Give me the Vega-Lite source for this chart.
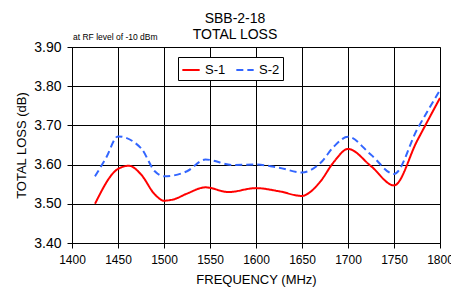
{
  "$schema": "https://vega.github.io/schema/vega-lite/v6.json",
  "width": 368,
  "height": 196,
  "autosize": {"type": "none"},
  "padding": {"left": 72, "top": 47, "right": 11, "bottom": 52},
  "background": "white",
  "config": {
    "font": "Liberation Sans",
    "view": {"stroke": "#808080", "strokeWidth": 1}
  },
  "title": {
    "text": ["SBB-2-18", "TOTAL LOSS"],
    "fontSize": 14,
    "fontWeight": "normal",
    "color": "#000000",
    "anchor": "middle",
    "dx": -21,
    "offset": -9,
    "lineHeight": 16
  },
  "data": {
    "values": [
      {"f": 1425, "loss": 3.500, "s": "S-1"},
      {"f": 1450, "loss": 3.589, "s": "S-1"},
      {"f": 1462, "loss": 3.597, "s": "S-1"},
      {"f": 1475, "loss": 3.575, "s": "S-1"},
      {"f": 1490, "loss": 3.524, "s": "S-1"},
      {"f": 1500, "loss": 3.508, "s": "S-1"},
      {"f": 1510, "loss": 3.511, "s": "S-1"},
      {"f": 1525, "loss": 3.526, "s": "S-1"},
      {"f": 1545, "loss": 3.542, "s": "S-1"},
      {"f": 1570, "loss": 3.530, "s": "S-1"},
      {"f": 1600, "loss": 3.540, "s": "S-1"},
      {"f": 1625, "loss": 3.532, "s": "S-1"},
      {"f": 1650, "loss": 3.520, "s": "S-1"},
      {"f": 1660, "loss": 3.532, "s": "S-1"},
      {"f": 1670, "loss": 3.557, "s": "S-1"},
      {"f": 1685, "loss": 3.608, "s": "S-1"},
      {"f": 1700, "loss": 3.640, "s": "S-1"},
      {"f": 1725, "loss": 3.596, "s": "S-1"},
      {"f": 1750, "loss": 3.547, "s": "S-1"},
      {"f": 1775, "loss": 3.660, "s": "S-1"},
      {"f": 1800, "loss": 3.770, "s": "S-1"},
      {"f": 1425, "loss": 3.570, "s": "S-2"},
      {"f": 1437, "loss": 3.617, "s": "S-2"},
      {"f": 1450, "loss": 3.672, "s": "S-2"},
      {"f": 1475, "loss": 3.642, "s": "S-2"},
      {"f": 1490, "loss": 3.583, "s": "S-2"},
      {"f": 1500, "loss": 3.570, "s": "S-2"},
      {"f": 1525, "loss": 3.583, "s": "S-2"},
      {"f": 1545, "loss": 3.613, "s": "S-2"},
      {"f": 1575, "loss": 3.599, "s": "S-2"},
      {"f": 1600, "loss": 3.600, "s": "S-2"},
      {"f": 1625, "loss": 3.592, "s": "S-2"},
      {"f": 1650, "loss": 3.580, "s": "S-2"},
      {"f": 1670, "loss": 3.604, "s": "S-2"},
      {"f": 1685, "loss": 3.647, "s": "S-2"},
      {"f": 1700, "loss": 3.671, "s": "S-2"},
      {"f": 1725, "loss": 3.625, "s": "S-2"},
      {"f": 1750, "loss": 3.576, "s": "S-2"},
      {"f": 1775, "loss": 3.689, "s": "S-2"},
      {"f": 1800, "loss": 3.790, "s": "S-2"}
    ]
  },
  "encoding": {
    "x": {
      "field": "f", "type": "quantitative",
      "scale": {"domain": [1400, 1800], "nice": false, "zero": false},
      "axis": {
        "values": [1400, 1450, 1500, 1550, 1600, 1650, 1700, 1750, 1800],
        "format": "d",
        "title": "FREQUENCY (MHz)",
        "titleFontSize": 13, "titleFontWeight": "normal", "titleColor": "#000000",
        "titlePadding": 8,
        "labelFontSize": 12, "labelColor": "#000000", "labelPadding": 6,
        "labelFlush": false, "labelOverlap": false,
        "domainColor": "#000000", "tickColor": "#000000", "tickSize": 5,
        "grid": true, "gridColor": "#000000", "gridWidth": 1
      }
    },
    "y": {
      "field": "loss", "type": "quantitative",
      "scale": {"domain": [3.4, 3.9], "nice": false, "zero": false},
      "axis": {
        "values": [3.4, 3.5, 3.6, 3.7, 3.8, 3.9],
        "format": ".2f",
        "title": "TOTAL  LOSS (dB)",
        "titleFontSize": 13, "titleFontWeight": "normal", "titleColor": "#000000",
        "titlePadding": 5,
        "labelFontSize": 14, "labelColor": "#000000", "labelPadding": 6,
        "labelFlush": false, "labelOverlap": false,
        "domainColor": "#000000", "tickColor": "#000000", "tickSize": 5,
        "grid": true, "gridColor": "#000000", "gridWidth": 1
      }
    }
  },
  "layer": [
    {
      "mark": {"type": "line", "interpolate": "monotone", "strokeWidth": 2, "clip": true},
      "encoding": {
        "color": {
          "field": "s", "type": "nominal",
          "scale": {"domain": ["S-1", "S-2"], "range": ["#ff0000", "#3366ff"]},
          "legend": {
            "title": null,
            "orient": "none",
            "legendX": 106,
            "legendY": 10,
            "direction": "horizontal",
            "symbolType": "stroke",
            "symbolSize": 300,
            "symbolStrokeWidth": 2,
            "labelFontSize": 13,
            "labelColor": "#000000",
            "columnPadding": 6,
            "strokeColor": "#000000",
            "fillColor": "#ffffff",
            "padding": 3
          }
        },
        "strokeDash": {
          "field": "s", "type": "nominal",
          "scale": {"domain": ["S-1", "S-2"], "range": [[1, 0], [7, 4]]},
          "legend": {
            "title": null,
            "orient": "none",
            "legendX": 106,
            "legendY": 10,
            "direction": "horizontal",
            "symbolType": "stroke",
            "symbolSize": 300,
            "symbolStrokeWidth": 2,
            "labelFontSize": 13,
            "labelColor": "#000000",
            "columnPadding": 6,
            "strokeColor": "#000000",
            "fillColor": "#ffffff",
            "padding": 3
          }
        }
      }
    },
    {
      "data": {"values": [{"f": 1400, "loss": 3.9, "t": "at RF level of -10 dBm"}]},
      "mark": {"type": "text", "align": "left", "baseline": "bottom", "dx": 1, "dy": -5, "fontSize": 8.5, "color": "#000000"},
      "encoding": {
        "text": {"field": "t"}
      }
    }
  ]
}
